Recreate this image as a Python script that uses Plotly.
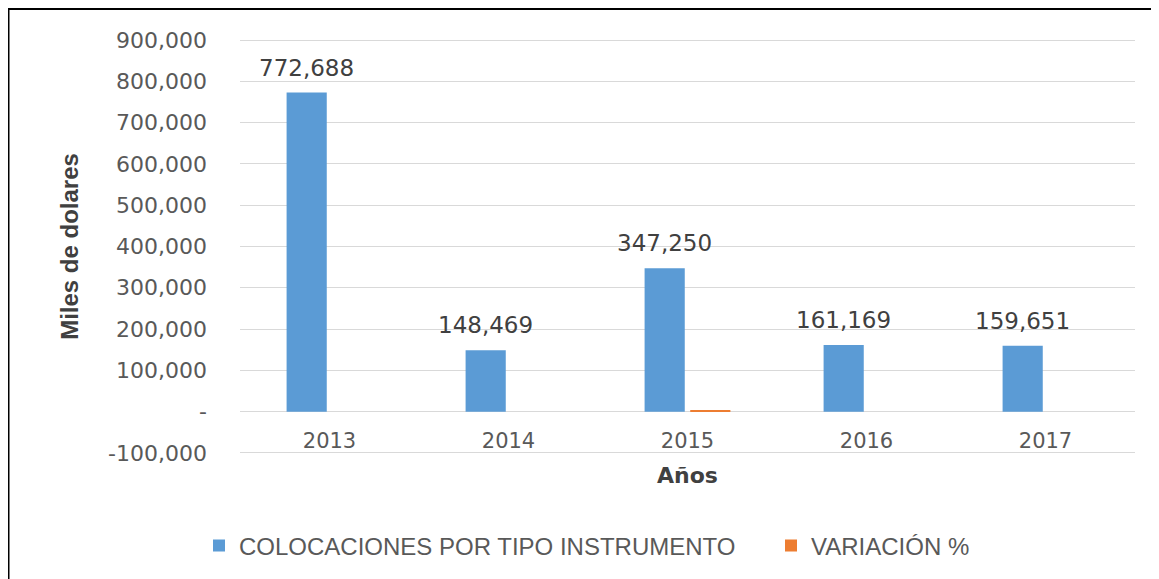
import plotly.graph_objects as go

years = ["2013", "2014", "2015", "2016", "2017"]
colocaciones = [772688, 148469, 347250, 161169, 159651]
variacion = [0, 0, 3000, 0, 0]
y_tickvals = [-100000, 0, 100000, 200000, 300000, 400000, 500000, 600000, 700000, 800000, 900000]
y_ticktext = ["-100,000", "-", "100,000", "200,000", "300,000", "400,000", "500,000",
              "600,000", "700,000", "800,000", "900,000"]

BLUE = "#5B9BD5"
ORANGE = "#ED7D31"
GRID = "#D9D9D9"
TXT = "#595959"

fig = go.Figure()
fig.add_trace(go.Bar(x=years, y=colocaciones, name="COLOCACIONES POR TIPO INSTRUMENTO",
                     marker=dict(color=BLUE, line=dict(width=0)), legend="legend"))
fig.add_trace(go.Bar(x=years, y=variacion, name="VARIACIÓN %",
                     marker=dict(color=ORANGE, line=dict(width=0)), legend="legend2"))

# data labels above blue bars (x given as category index)
for i, v in enumerate(colocaciones):
    fig.add_annotation(x=i, y=v, text=f"{v:,}", showarrow=False, xref="x", yref="y",
                       xanchor="center", yanchor="bottom", xshift=-22.8, yshift=10,
                       font=dict(family="DejaVu Sans", size=23, color="#404040"))

W, H = 1159, 579
L, R, T, B = 232, 32, 31, 133
pw = W - L - R
ph = H - T - B
YMIN, YMAX = -102500, 902500
zero_pos = (0 - YMIN) / (YMAX - YMIN)
leg_y = (445 - 537) / ph
leg_font = dict(family="Liberation Sans", size=24, color=TXT)

fig.update_layout(
    width=W, height=H,
    margin=dict(l=L, r=R, t=T, b=B, autoexpand=False),
    paper_bgcolor="white", plot_bgcolor="white",
    barmode="group", bargap=0.49, bargroupgap=0.12,
    showlegend=True,
    legend=dict(orientation="h", x=(191 - L) / pw, xanchor="left", y=leg_y, yanchor="middle",
                font=leg_font, itemwidth=30),
    legend2=dict(orientation="h", x=(763 - L) / pw, xanchor="left", y=leg_y, yanchor="middle",
                 font=leg_font, itemwidth=30),
    xaxis=dict(type="category", range=[-0.5, len(years) - 0.5], anchor="free",
               position=zero_pos, showgrid=False,
               zeroline=False, showline=False, ticks="outside", ticklen=10,
               tickcolor="rgba(0,0,0,0)",
               tickfont=dict(family="DejaVu Sans", size=21, color=TXT),
               title=dict(text="<b>Años</b>", standoff=15,
                          font=dict(family="DejaVu Sans", size=22, color="#404040"))),
    yaxis=dict(range=[YMIN, YMAX], tickvals=y_tickvals, ticktext=y_ticktext,
               showgrid=True, gridcolor=GRID, gridwidth=1,
               zeroline=True, zerolinecolor=GRID, zerolinewidth=1, showline=False,
               ticklabelstandoff=32,
               tickfont=dict(family="DejaVu Sans", size=22, color=TXT),
               title=dict(text="<b>Miles de dolares</b>", standoff=22,
                          font=dict(family="Liberation Sans", size=24, color="#404040"))),
)

# outer frame (left and top edges visible in the reference)
fx = (0.5 - L) / pw
fy = 1 + (T - 1) / ph
fig.add_shape(type="path", xref="paper", yref="paper",
              path=f"M {fx},-0.5 L {fx},{fy} L 1.2,{fy}",
              line=dict(color="black", width=2))

fig.write_html("out.html")
